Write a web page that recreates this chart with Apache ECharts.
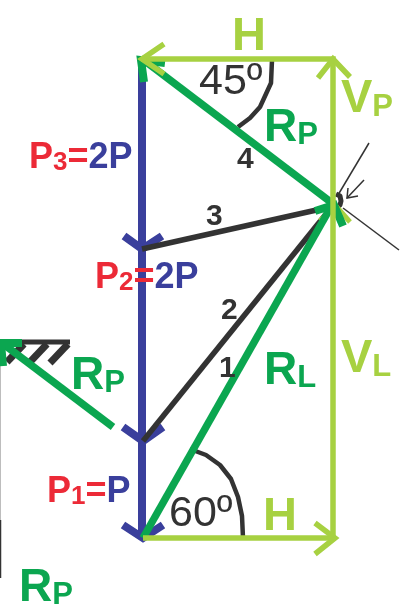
<!DOCTYPE html>
<html><head><meta charset="utf-8">
<style>html,body{margin:0;padding:0;background:#fff}#c{width:405px;height:612px}</style>
<script src="https://cdn.jsdelivr.net/npm/echarts@6/dist/echarts.min.js"></script>
</head><body><div id="c"></div>
<script>
// Diagram geometry (x, y in picture units)
const blueShaft = [[142,58],[142,538]];
const blueHeads = [
  [[124,236],[142,249],[162,236]],
  [[123,427],[143,441],[163,427]],
  [[123,525],[143,538],[163,525]]
];
const blackMembers = [
  [[142,249],[330,207]],
  [[143,441],[326,214]]
];
const arc45 = [[272,60],[271,83],[260,107],[250,118],[238,127]];
const arc60 = [[190,449],[206,455],[220,465],[231,479],[238,497],[242,516],[243,538]];
const hatchBar = [[0,342],[70,342]];
const hatchMarks = [
  [[7,362],[24,344]],
  [[30,362],[47,344]],
  [[50,363],[68,344]]
];
const jointArc = [[336,194],[340,196],[341,201],[340,205],[336,208]];
const thinLines = [
  [[369,143],[338,195]],
  [[343,208],[399,250]],
  [[364,180],[347,198]],
  [[348,188],[347,198],[358,196]]
];
const greenLines = [
  [[141,58],[332,203]],
  [[143,538],[332,205]],
  [[113,427],[2,343]]
];
const greenHeads = [
  [[144,82],[141,60],[165,63]],
  [[315,211],[334,205],[343,226]],
  [[3,366],[1,343],[22,343]]
];
const limeLines = [
  [[141,59],[333,59],[333,538],[143,538]]
];
const limeHeads = [
  [[164,44],[142,59],[164,74]],
  [[318,78],[333,59],[350,77]],
  [[315,523],[335,538],[315,554]],
  [[320,221],[335,205],[350,222]]
];
const edgeGrey = [[0.5,340],[0.5,520]];
const edgeBlack = [[0.5,520],[0.5,578]];

// Labels
const labelTexts = [
  '{lb|H}', '{lb|H}',
  '{lb|V}{ls|P}', '{lb|V}{ls|L}',
  '{gb|R}{gs|P}', '{gb|R}{gs|L}', '{gb|R}{gs|P}', '{gb|R}{gs|P}',
  '{ang|45º}', '{ang|60º}',
  '{num|4}', '{num|3}', '{num|2}', '{num|1}',
  '{rb|P}{rs|3}{rb|=}{bb|2P}', '{rb|P}{rs|2}{rb|=}{bb|2P}', '{rb|P}{rs|1}{rb|=}{bb|P}'
];
const labelAnchors = [
  [232,36],[263,516],
  [341,98],[341,358],
  [264,126],[264,369],[71,374],[19,586],
  [199,79],[169,511],
  [237,150],[206,207],[221,301],[219,359],
  [29,151],[95,271],[47,485]
];

const thin = (pts, color, width, z, join) => ({
  type:'line', data:pts, symbol:'none', silent:true, z:z, animation:false,
  lineStyle:{color:color, width:width, cap:'butt', join:join||'miter', miterLimit:10}
});
const BLUE='#3a3f9c', BLACK='#333333', GREEN='#0ba650', LIME='#a7d141', RED='#ec2a37';
const series = [];
series.push(thin(edgeGrey,'#bdbdbd',1,1));
series.push(thin(edgeBlack,'#333333',1.5,1));
thinLines.forEach(p=>series.push(thin(p,BLACK,1.5,2)));
series.push(thin(jointArc,BLACK,5,2,'round'));
series.push(thin(hatchBar,BLACK,5,2));
hatchMarks.forEach(p=>series.push(thin(p,BLACK,7,2)));
series.push(thin(blueShaft,BLUE,8,3));
blueHeads.forEach(p=>series.push(thin(p,BLUE,8,3)));
blackMembers.forEach(p=>series.push(thin(p,BLACK,5.5,4)));
series.push(thin(arc45,BLACK,4.5,4,'round'));
series.push(thin(arc60,BLACK,4.5,4,'round'));
limeHeads.slice(3).forEach(p=>series.push(thin(p,LIME,5,5)));
greenLines.forEach(p=>series.push(thin(p,GREEN,7.5,6)));
greenHeads.forEach(p=>series.push(thin(p,GREEN,8,6)));
limeLines.forEach(p=>series.push(thin(p,LIME,5.5,7)));
limeHeads.slice(0,3).forEach(p=>series.push(thin(p,LIME,5.5,7)));

const tok = (size,color,weight)=>({fontFamily:'Liberation Sans',fontSize:size,fontWeight:weight||'bold',color:color,lineHeight:50,verticalAlign:'bottom',padding:0});
series.push({
  type:'scatter', symbolSize:0, silent:true, z:10, animation:false,
  itemStyle:{opacity:1},
  data:labelAnchors.map((a,i)=>({value:a,
    itemStyle:{opacity:1},
    label:{show:true,opacity:1,position:'right',distance:0,formatter:labelTexts[i],
      rich:{
        lb:tok(47,LIME), ls:tok(31,LIME),
        gb:tok(46,GREEN), gs:tok(31,GREEN),
        ang:tok(43,BLACK,'normal'),
        num:tok(30,BLACK),
        rb:tok(36,RED), rs:tok(26,RED), bb:tok(36,BLUE)
      }}}))
});

const chart = echarts.init(document.getElementById('c'),null,{width:405,height:612});
chart.setOption({
  animation:false,
  backgroundColor:'#ffffff',
  grid:{left:0,top:0,width:405,height:612,containLabel:false},
  xAxis:{type:'value',min:0,max:405,show:false},
  yAxis:{type:'value',min:0,max:612,inverse:true,show:false},
  series:series
});
</script></body></html>
